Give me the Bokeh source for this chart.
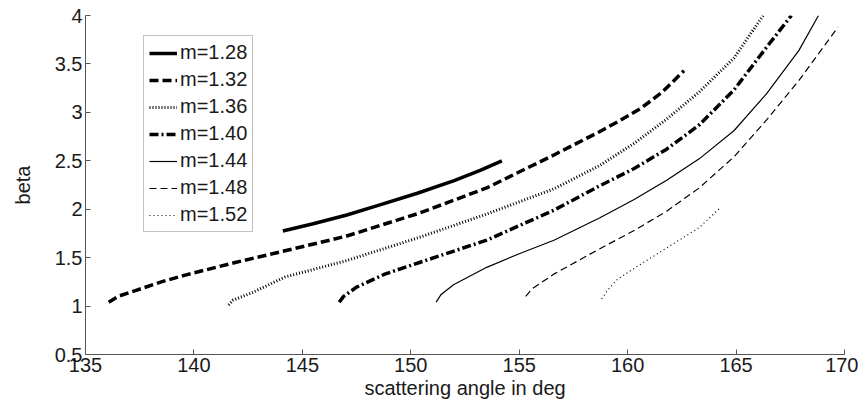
from bokeh.plotting import figure
from bokeh.models import FixedTicker, PrintfTickFormatter, Legend, LegendItem
from bokeh.embed import file_html
from bokeh.resources import INLINE

# ---- data ----
x_ticks = [135, 140, 145, 150, 155, 160, 165, 170]
y_ticks = [0.5, 1, 1.5, 2, 2.5, 3, 3.5, 4]

angle_128 = [144.1, 145.5, 147.05, 148.5, 150.3, 152.0, 153.2, 154.2]
beta_128 = [1.775, 1.85, 1.94, 2.04, 2.165, 2.295, 2.40, 2.50]

angle_132 = [136.07, 136.5, 137.3, 138.5, 139.6, 141.9, 144.0, 147.0, 150.4, 153.5, 156.6, 158.7, 159.6, 160.6, 161.6, 162.6]
beta_132 = [1.04, 1.10, 1.16, 1.25, 1.32, 1.45, 1.56, 1.72, 1.96, 2.22, 2.56, 2.80, 2.91, 3.04, 3.21, 3.43]

angle_136 = [141.6, 141.8, 142.7, 144.2, 147.05, 150.4, 153.5, 156.6, 158.7, 160.3, 161.8, 163.3, 164.9, 166.25]
beta_136 = [1.01, 1.06, 1.14, 1.30, 1.47, 1.71, 1.95, 2.21, 2.45, 2.68, 2.93, 3.21, 3.56, 4.0]

angle_140 = [146.7, 146.9, 147.5, 148.8, 150.4, 153.5, 156.6, 158.7, 160.3, 161.8, 163.3, 164.9, 166.4, 167.55]
beta_140 = [1.04, 1.10, 1.195, 1.33, 1.45, 1.68, 1.99, 2.24, 2.42, 2.62, 2.87, 3.23, 3.67, 4.0]

angle_144 = [151.17, 151.4, 151.97, 153.5, 155.0, 156.6, 158.7, 160.3, 161.8, 163.3, 164.9, 166.4, 167.9, 168.8]
beta_144 = [1.04, 1.12, 1.22, 1.40, 1.54, 1.68, 1.91, 2.10, 2.30, 2.52, 2.81, 3.19, 3.64, 4.0]

angle_148 = [155.3, 155.6, 156.6, 158.7, 160.3, 161.8, 163.3, 164.9, 166.4, 167.9, 169.7]
beta_148 = [1.10, 1.18, 1.33, 1.59, 1.78, 1.98, 2.22, 2.54, 2.92, 3.33, 3.88]

angle_152 = [158.8, 159.1, 159.5, 160.3, 161.8, 163.3, 164.25]
beta_152 = [1.075, 1.17, 1.27, 1.39, 1.60, 1.81, 2.01]

labels = ["m=1.28", "m=1.32", "m=1.36", "m=1.40", "m=1.44", "m=1.48", "m=1.52"]

FONT = "Liberation Sans"
TXT = "#1a1a1a"
AX = "#555555"

p = figure(width=858, height=407, output_backend="svg", toolbar_location=None,
           x_range=(135, 170), y_range=(0.5, 4),
           min_border_left=85, min_border_right=14, min_border_top=15, min_border_bottom=53)
p.outline_line_color = None
p.grid.visible = False
p.background_fill_color = "white"
p.border_fill_color = "white"

for ax in (p.xaxis[0], p.yaxis[0]):
    ax.axis_line_color = AX
    ax.major_tick_line_color = AX
    ax.major_tick_in = 5
    ax.major_tick_out = 0
    ax.minor_tick_line_color = None
    ax.major_label_text_font = FONT
    ax.major_label_text_font_size = "20px"
    ax.major_label_text_color = TXT
    ax.axis_label_text_font = FONT
    ax.axis_label_text_font_size = "20px"
    ax.axis_label_text_font_style = "normal"
    ax.axis_label_text_color = TXT

p.xaxis.ticker = FixedTicker(ticks=x_ticks)
p.yaxis.ticker = FixedTicker(ticks=y_ticks)
p.xaxis.formatter = PrintfTickFormatter(format="%g")
p.yaxis.formatter = PrintfTickFormatter(format="%g")
p.xaxis.axis_label = "scattering angle in deg"
p.yaxis.axis_label = "beta"
p.xaxis.major_label_standoff = 3
p.xaxis.axis_label_standoff = 2
p.yaxis.major_label_standoff = 3
p.yaxis.axis_label_standoff = 18

series = [
    (angle_128, beta_128, dict(line_width=3.5)),
    (angle_132, beta_132, dict(line_width=3.5, line_dash="9 4")),
    (angle_136, beta_136, dict(line_width=3, line_dash="1 2")),
    (angle_140, beta_140, dict(line_width=3.5, line_dash="9 3 2 3")),
    (angle_144, beta_144, dict(line_width=1.2)),
    (angle_148, beta_148, dict(line_width=1.2, line_dash="7 4")),
    (angle_152, beta_152, dict(line_width=1.2, line_dash="1 3")),
]

items = []
for (xs, ys, style), lab in zip(series, labels):
    r = p.line(xs, ys, line_color="black", line_cap="butt", line_join="round", **style)
    items.append(LegendItem(label=lab, renderers=[r]))

legend = Legend(items=items, location=(58, 122))
legend.label_text_font = FONT
legend.label_text_font_size = "20px"
legend.label_text_color = TXT
legend.label_height = 22
legend.glyph_height = 22
legend.glyph_width = 28
legend.label_standoff = 3
legend.spacing = 4
legend.padding = 5
legend.margin = 0
legend.border_line_color = "#888888"
legend.border_line_width = 1
legend.background_fill_alpha = 1
p.add_layout(legend, "center")

open("out.html", "w").write(file_html(p, INLINE))
